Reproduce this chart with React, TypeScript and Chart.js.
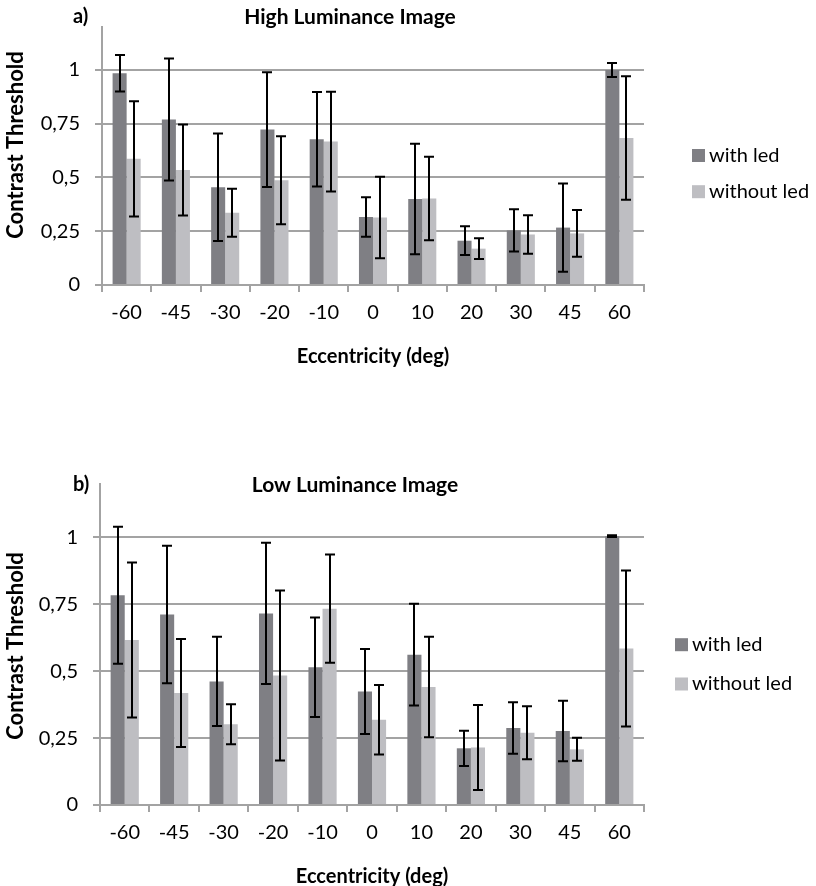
import React, { useEffect, useRef } from "react";
import { Chart, registerables } from "chart.js";

Chart.register(...registerables);

// Eccentricity categories (deg)
const ECCENTRICITY = ["-60", "-45", "-30", "-20", "-10", "0", "10", "20", "30", "45", "60"];

// Y axis tick positions and their labels (decimal comma)
const Y_TICKS = [0, 0.25, 0.5, 0.75, 1];
const Y_TICK_LABELS = ["0", "0,25", "0,5", "0,75", "1"];
const Y_MAX = 1.2;

const SERIES_NAMES = ["with led", "without led"];

// a) High luminance image: mean contrast threshold and standard deviation
const HIGH_WITH = [0.985, 0.77, 0.455, 0.723, 0.678, 0.316, 0.4, 0.206, 0.254, 0.267, 1.0];
const HIGH_WITH_SD = [0.085, 0.284, 0.25, 0.267, 0.22, 0.092, 0.257, 0.067, 0.098, 0.205, 0.032];
const HIGH_WITHOUT = [0.587, 0.535, 0.336, 0.487, 0.667, 0.314, 0.402, 0.169, 0.235, 0.24, 0.684];
const HIGH_WITHOUT_SD = [0.268, 0.212, 0.112, 0.205, 0.232, 0.189, 0.194, 0.048, 0.09, 0.109, 0.287];

// b) Low luminance image
const LOW_WITH = [0.784, 0.712, 0.462, 0.716, 0.515, 0.424, 0.562, 0.212, 0.288, 0.277, 1.005];
const LOW_WITH_SD = [0.256, 0.257, 0.167, 0.264, 0.186, 0.159, 0.19, 0.066, 0.096, 0.113, 0.003];
const LOW_WITHOUT = [0.617, 0.419, 0.302, 0.484, 0.734, 0.319, 0.441, 0.215, 0.27, 0.208, 0.585];
const LOW_WITHOUT_SD = [0.29, 0.202, 0.075, 0.318, 0.202, 0.13, 0.188, 0.159, 0.099, 0.043, 0.292];

const COLOR_WITH = "#7f7f84";
const COLOR_WITHOUT = "#bebec2";
const GRID = "#a3a3a3";
const FONT = "Lato, 'Open Sans', sans-serif";

const W = 816;
const H = 443;

type Panel = {
  tag: string;
  title: string;
  withVals: number[];
  withSd: number[];
  withoutVals: number[];
  withoutSd: number[];
  // layout
  axisLeft: number;
  areaTop: number;
  areaBottom: number;
  titleX: number;
  headY: number;
  yTitleY: number;
  xTitleY: number;
  legendX: number;
  legendY: [number, number];
};

// Draws symmetric error bars (mean ± sd) on top of each bar.
const errorBarsPlugin = {
  id: "errorBars",
  afterDatasetsDraw(chart: any) {
    const ctx = chart.ctx;
    const yScale = chart.scales.y;
    ctx.save();
    ctx.strokeStyle = "#000";
    ctx.lineWidth = 2;
    chart.data.datasets.forEach((ds: any, di: number) => {
      const meta = chart.getDatasetMeta(di);
      meta.data.forEach((bar: any, i: number) => {
        const v = ds.data[i];
        const sd = ds.sd[i];
        const x = Math.round(bar.x);
        const yHi = yScale.getPixelForValue(v + sd);
        const yLo = yScale.getPixelForValue(v - sd);
        const cap = 5;
        ctx.beginPath();
        ctx.moveTo(x, yHi);
        ctx.lineTo(x, yLo);
        ctx.moveTo(x - cap, yHi);
        ctx.lineTo(x + cap, yHi);
        ctx.moveTo(x - cap, yLo);
        ctx.lineTo(x + cap, yLo);
        ctx.stroke();
      });
    });
    ctx.restore();
  },
};

// Panel tag, title, axis titles and legend.
const annotationsPlugin = {
  id: "panelText",
  afterDraw(chart: any) {
    const p: Panel = chart.options.plugins.panelText.panel;
    const ctx = chart.ctx;
    const area = chart.chartArea;
    ctx.save();
    ctx.fillStyle = "#000";
    ctx.textBaseline = "middle";

    ctx.font = `bold 20px ${FONT}`;
    ctx.textAlign = "left";
    ctx.fillText(p.tag, 73, p.headY);

    ctx.font = `bold 21px ${FONT}`;
    ctx.textAlign = "center";
    ctx.fillText(p.title, p.titleX, p.headY);

    ctx.font = `bold 20px ${FONT}`;
    ctx.fillText("Eccentricity (deg)", (area.left + area.right) / 2, p.xTitleY);

    ctx.font = `bold 22px ${FONT}`;
    ctx.save();
    ctx.translate(16, p.yTitleY);
    ctx.rotate(-Math.PI / 2);
    ctx.fillText("Contrast Threshold", 0, 0);
    ctx.restore();

    ctx.font = `20px ${FONT}`;
    ctx.textAlign = "left";
    chart.data.datasets.forEach((ds: any, i: number) => {
      const cy = p.legendY[i];
      ctx.fillStyle = ds.backgroundColor;
      ctx.fillRect(p.legendX, cy - 6.5, 13, 13);
      ctx.fillStyle = "#000";
      ctx.fillText(ds.label, p.legendX + 17, cy);
    });
    ctx.restore();
  },
};

function BarPanel({ panel, top }: { panel: Panel; top: number }) {
  const ref = useRef<HTMLCanvasElement>(null);

  useEffect(() => {
    if (!ref.current) return;
    const chart = new Chart(ref.current, {
      type: "bar",
      data: {
        labels: ECCENTRICITY,
        datasets: [
          {
            label: SERIES_NAMES[0],
            data: panel.withVals,
            sd: panel.withSd,
            backgroundColor: COLOR_WITH,
            borderWidth: 0,
          } as any,
          {
            label: SERIES_NAMES[1],
            data: panel.withoutVals,
            sd: panel.withoutSd,
            backgroundColor: COLOR_WITHOUT,
            borderWidth: 0,
          } as any,
        ],
      },
      options: {
        responsive: false,
        animation: false,
        devicePixelRatio: 1,
        datasets: { bar: { categoryPercentage: 0.57, barPercentage: 1 } },
        layout: {
          padding: {
            top: panel.areaTop,
            left: 0,
            right: W - 644,
            bottom: H - panel.areaBottom - 40,
          },
        },
        font: { family: FONT },
        scales: {
          x: {
            type: "category",
            offset: true,
            grid: {
              display: true,
              offset: true,
              drawOnChartArea: false,
              drawTicks: true,
              tickLength: 7,
              color: GRID,
              lineWidth: 2,
            },
            border: { display: true, color: GRID, width: 2 },
            ticks: {
              color: "#000",
              font: { family: FONT, size: 20 },
              padding: 9,
              maxRotation: 0,
              autoSkip: false,
            },
            afterFit: (s: any) => {
              s.height = 40;
            },
          },
          y: {
            min: 0,
            max: Y_MAX,
            afterBuildTicks: (s: any) => {
              s.ticks = Y_TICKS.map((v) => ({ value: v }));
            },
            grid: { color: GRID, lineWidth: 2, tickLength: 7, drawTicks: true },
            border: { display: true, color: GRID, width: 2 },
            ticks: {
              color: "#000",
              font: { family: FONT, size: 20 },
              padding: 15,
              callback: (v: any) => {
                const i = Y_TICKS.indexOf(Number(v));
                return i >= 0 ? Y_TICK_LABELS[i] : "";
              },
            },
            afterFit: (s: any) => {
              s.width = panel.axisLeft;
            },
          },
        },
        plugins: {
          legend: { display: false },
          title: { display: false },
          tooltip: { enabled: false },
          panelText: { panel },
        } as any,
      },
      plugins: [errorBarsPlugin, annotationsPlugin],
    });
    return () => chart.destroy();
  }, [panel]);

  return (
    <canvas
      ref={ref}
      width={W}
      height={H}
      style={{ position: "absolute", left: 0, top, width: W, height: H }}
    />
  );
}

const HIGH_PANEL: Panel = {
  tag: "a)",
  title: "High Luminance Image",
  withVals: HIGH_WITH,
  withSd: HIGH_WITH_SD,
  withoutVals: HIGH_WITHOUT,
  withoutSd: HIGH_WITHOUT_SD,
  axisLeft: 102,
  areaTop: 26,
  areaBottom: 285,
  titleX: 350,
  headY: 17,
  yTitleY: 145,
  xTitleY: 357,
  legendX: 692,
  legendY: [155.5, 191.7],
};

const LOW_PANEL: Panel = {
  tag: "b)",
  title: "Low Luminance Image",
  withVals: LOW_WITH,
  withSd: LOW_WITH_SD,
  withoutVals: LOW_WITHOUT,
  withoutSd: LOW_WITHOUT_SD,
  axisLeft: 100,
  areaTop: 41,
  areaBottom: 362,
  titleX: 355,
  headY: 42,
  yTitleY: 203,
  xTitleY: 434,
  legendX: 675,
  legendY: [201.7, 241],
};

export default function App() {
  return (
    <div
      style={{
        position: "absolute",
        left: 0,
        top: 0,
        width: W,
        height: 886,
        background: "#fff",
        overflow: "hidden",
      }}
    >
      <BarPanel panel={HIGH_PANEL} top={0} />
      <BarPanel panel={LOW_PANEL} top={443} />
    </div>
  );
}
